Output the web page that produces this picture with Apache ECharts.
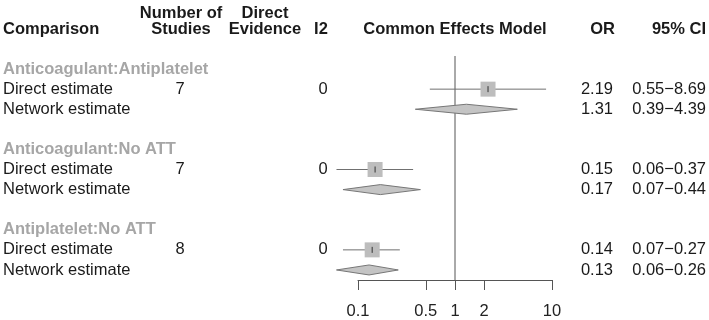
<!DOCTYPE html>
<html>
<head>
<meta charset="utf-8">
<script src="https://cdn.jsdelivr.net/npm/echarts@6/dist/echarts.min.js"></script>
<style>
html, body { margin: 0; padding: 0; background: #fff; }
#main { width: 709px; height: 320px; }
</style>
</head>
<body>
<div id="main"></div>
<script>
// forest plot data (odds ratios, 95% CI)
var comparisons = ['Anticoagulant:Antiplatelet', 'Anticoagulant:No ATT', 'Antiplatelet:No ATT'];
var nStudies = [7, 7, 8];
var i2Values = [0, 0, 0];
var directOR = [2.19, 0.15, 0.14];
var directLower = [0.55, 0.06, 0.07];
var directUpper = [8.69, 0.37, 0.27];
var networkOR = [1.31, 0.17, 0.13];
var networkLower = [0.39, 0.07, 0.06];
var networkUpper = [4.39, 0.44, 0.26];
var tickValues = [0.1, 0.5, 1, 2, 10];

var FONT = "'Liberation Sans', Arial, sans-serif";
var FS = '16.5px ';
var log10 = function (v) { return Math.log(v) / Math.LN10; };
var fmt = function (v) { return v.toFixed(2); };

// rows: label, direct, network, blank for each comparison
var rows = [];
comparisons.forEach(function (name, g) {
    rows.push({ row: g * 4, kind: 'label', name: name });
    rows.push({ row: g * 4 + 1, kind: 'direct', name: 'Direct estimate', n: nStudies[g], i2: i2Values[g],
        est: directOR[g], lo: directLower[g], hi: directUpper[g] });
    rows.push({ row: g * 4 + 2, kind: 'network', name: 'Network estimate',
        est: networkOR[g], lo: networkLower[g], hi: networkUpper[g] });
});

var chart = echarts.init(document.getElementById('main'));

function header(x, y, text, align) {
    return { type: 'text', x: x, y: y,
        style: { text: text, font: 'bold ' + FS + FONT, fill: '#1a1a1a', align: align, verticalAlign: 'middle' } };
}

var option = {
    backgroundColor: '#fff',
    animation: false,
    textStyle: { fontFamily: FONT },
    grid: { left: 358, right: 157, top: 56, bottom: 40 },
    xAxis: {
        type: 'value',
        min: -1,
        max: 1,
        splitLine: { show: false },
        axisLine: { onZero: false, lineStyle: { color: '#555', width: 1 } },
        axisTick: { length: 10, customValues: tickValues.map(log10), lineStyle: { color: '#555' } },
        axisLabel: {
            customValues: tickValues.map(log10),
            margin: 23,
            fontSize: 16.5,
            color: '#222',
            fontFamily: FONT,
            formatter: function (v) {
                var x = Math.pow(10, v);
                return String(Math.round(x * 10) / 10);
            }
        }
    },
    yAxis: {
        type: 'value',
        inverse: true,
        min: -0.65,
        max: 10.5,
        show: false
    },
    graphic: [
        header(3, 29, 'Comparison', 'left'),
        header(181, 13, 'Number of', 'center'),
        header(181, 29, 'Studies', 'center'),
        header(265, 13, 'Direct', 'center'),
        header(265, 29, 'Evidence', 'center'),
        header(321, 29, 'I2', 'center'),
        header(455, 29, 'Common Effects Model', 'center'),
        header(615, 29, 'OR', 'right'),
        header(706, 29, '95% CI', 'right')
    ],
    series: [
        {
            // reference line at OR = 1
            type: 'custom',
            clip: false,
            silent: true,
            data: [[0]],
            renderItem: function (params, api) {
                var top = api.coord([0, -0.65]);
                var bottom = api.coord([0, 10.5]);
                return {
                    type: 'line',
                    shape: { x1: top[0], y1: top[1], x2: bottom[0], y2: bottom[1] },
                    style: { stroke: '#555', lineWidth: 1 }
                };
            }
        },
        {
            // squares, CI lines and diamonds
            type: 'custom',
            clip: false,
            silent: true,
            data: rows.filter(function (r) { return r.kind !== 'label'; }).map(function (r) {
                return [log10(r.est), r.row, log10(r.lo), log10(r.hi), r.kind === 'direct' ? 1 : 0];
            }),
            renderItem: function (params, api) {
                var c = api.coord([api.value(0), api.value(1)]);
                var lo = api.coord([api.value(2), api.value(1)]);
                var hi = api.coord([api.value(3), api.value(1)]);
                if (api.value(4) === 1) {
                    var s = 15;
                    return {
                        type: 'group',
                        children: [
                            { type: 'line', shape: { x1: lo[0], y1: c[1], x2: hi[0], y2: c[1] },
                              style: { stroke: '#707070', lineWidth: 1 } },
                            { type: 'rect', shape: { x: c[0] - s / 2, y: c[1] - s / 2, width: s, height: s },
                              style: { fill: '#bdbdbd' } },
                            { type: 'line', shape: { x1: c[0], y1: c[1] - 3, x2: c[0], y2: c[1] + 3 },
                              style: { stroke: '#333', lineWidth: 1 } }
                        ]
                    };
                }
                var h = 5;
                return {
                    type: 'polygon',
                    shape: { points: [[lo[0], c[1]], [c[0], c[1] - h], [hi[0], c[1]], [c[0], c[1] + h]] },
                    style: { fill: '#c4c4c4', stroke: '#777', lineWidth: 1 }
                };
            }
        },
        {
            // table text columns
            type: 'custom',
            clip: false,
            silent: true,
            data: rows.map(function (r, i) { return [0, r.row, i]; }),
            renderItem: function (params, api) {
                var r = rows[api.value(2)];
                var y = api.coord([0, r.row])[1];
                var base = { font: FS + FONT, fill: '#1a1a1a', verticalAlign: 'middle' };
                if (r.kind === 'label') {
                    return { type: 'text', x: 3, y: y,
                        style: { text: r.name, font: 'bold ' + FS + FONT, fill: '#a6a6a6', verticalAlign: 'middle' } };
                }
                var kids = [
                    { type: 'text', x: 3, y: y, style: Object.assign({ text: r.name }, base) },
                    { type: 'text', x: 613, y: y, style: Object.assign({ text: fmt(r.est), align: 'right' }, base) },
                    { type: 'text', x: 706, y: y, style: Object.assign({ text: fmt(r.lo) + '\u2212' + fmt(r.hi), align: 'right' }, base) }
                ];
                if (r.kind === 'direct') {
                    kids.push({ type: 'text', x: 180, y: y, style: Object.assign({ text: String(r.n), align: 'center' }, base) });
                    kids.push({ type: 'text', x: 323, y: y, style: Object.assign({ text: String(r.i2), align: 'center' }, base) });
                }
                return { type: 'group', children: kids };
            }
        }
    ]
};

chart.setOption(option);
</script>
</body>
</html>
